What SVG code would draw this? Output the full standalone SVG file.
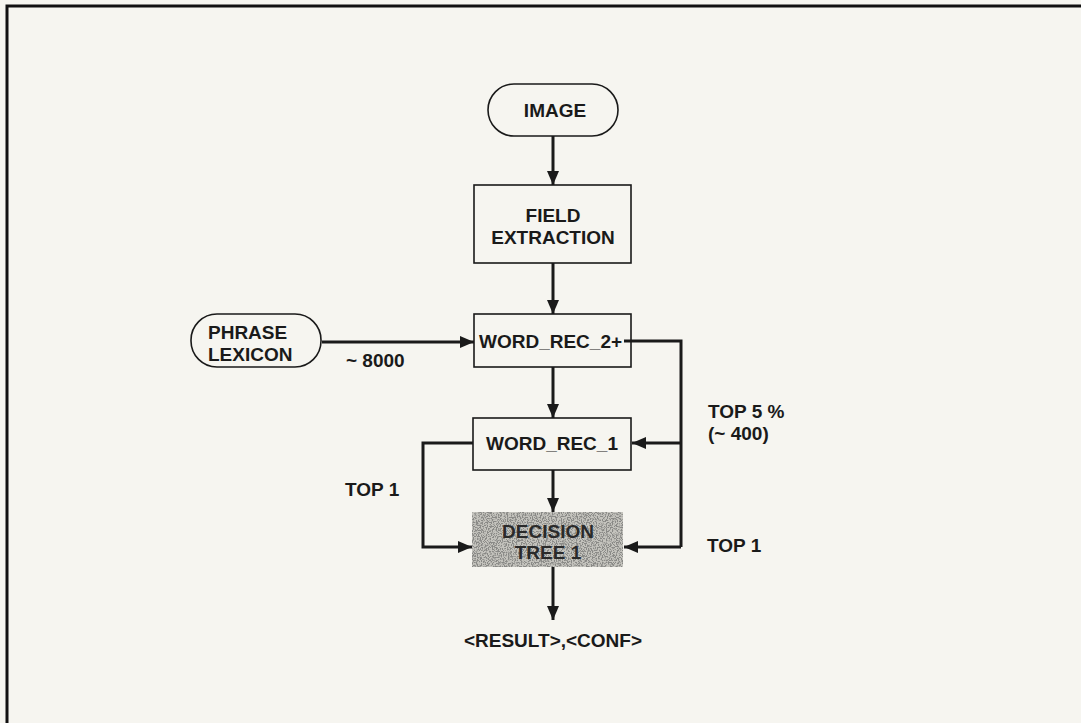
<svg xmlns="http://www.w3.org/2000/svg" width="1081" height="723" viewBox="0 0 1081 723">
<style>
.t{font-family:"Liberation Sans",Arial,sans-serif;font-size:19px;font-weight:bold;fill:#1a1a1a;}
.c{text-anchor:middle;}
.box{fill:none;stroke:#1a1a1a;stroke-width:1.6;}
.ln{fill:none;stroke:#1a1a1a;stroke-width:3;}
</style>
<defs>
<marker id="ah" viewBox="0 0 14 12" refX="14" refY="6" markerWidth="14" markerHeight="12" markerUnits="userSpaceOnUse" orient="auto">
<path d="M0,0 L14,6 L0,12 Z" fill="#1a1a1a"/>
</marker>
<filter id="noise" x="0" y="0" width="100%" height="100%">
<feTurbulence type="fractalNoise" baseFrequency="0.8" numOctaves="2" seed="3" result="n"/>
<feColorMatrix in="n" type="matrix" values="0 0 0 0 0.25  0 0 0 0 0.25  0 0 0 0 0.24  7 0 0 0 -3.2" result="g"/>
<feComposite in="g" in2="SourceGraphic" operator="in"/>
</filter>
</defs>
<rect x="0" y="0" width="1081" height="723" fill="#f6f5f0"/>
<path d="M7,723 V6 H1081" fill="none" stroke="#111" stroke-width="3"/>

<g id="connectors">
<line class="ln" x1="553" y1="136" x2="553" y2="185" marker-end="url(#ah)"/>
<line class="ln" x1="553" y1="263" x2="553" y2="314" marker-end="url(#ah)"/>
<line class="ln" x1="322" y1="342" x2="474" y2="342" marker-end="url(#ah)"/>
<line class="ln" x1="553" y1="367" x2="553" y2="418" marker-end="url(#ah)"/>
<line class="ln" x1="553" y1="470" x2="553" y2="512" marker-end="url(#ah)"/>
<line class="ln" x1="553" y1="567" x2="553" y2="620" marker-end="url(#ah)"/>
<path class="ln" d="M624,341 H681 V547"/>
<line class="ln" x1="681" y1="443" x2="632" y2="443" marker-end="url(#ah)"/>
<line class="ln" x1="681" y1="547" x2="624" y2="547" marker-end="url(#ah)"/>
<path class="ln" d="M473,443 H423 V547 H472" marker-end="url(#ah)"/>
<text class="t" x="346" y="367">~ 8000</text>
<text class="t" x="708" y="418">TOP 5 %</text>
<text class="t" x="708" y="440">(~ 400)</text>
<text class="t" x="345" y="496">TOP 1</text>
<text class="t" x="707" y="552">TOP 1</text>
</g>

<g id="image">
<rect class="box" x="488" y="84" width="130" height="52" rx="26"/>
<text class="t c" x="555" y="117">IMAGE</text>
</g>
<g id="field-extraction">
<rect class="box" x="474" y="185" width="157" height="78"/>
<text class="t c" x="553" y="222">FIELD</text>
<text class="t c" x="553" y="244">EXTRACTION</text>
</g>
<g id="phrase-lexicon">
<rect class="box" x="191" y="314" width="130" height="53" rx="26"/>
<text class="t" x="208" y="339">PHRASE</text>
<text class="t" x="208" y="361">LEXICON</text>
</g>
<g id="word-rec-2">
<rect class="box" x="474" y="314" width="157" height="53"/>
<text class="t" x="479" y="348">WORD_REC_2+</text>
</g>
<g id="word-rec-1">
<rect class="box" x="473" y="418" width="158" height="52"/>
<text class="t c" x="552" y="450">WORD_REC_1</text>
</g>
<g id="decision-tree">
<rect x="472" y="512" width="151" height="55" fill="#c4c3bd"/>
<rect x="472" y="512" width="151" height="55" fill="#888" filter="url(#noise)"/>
<text class="t c" x="548" y="538" style="fill:#2a2a2a">DECISION</text>
<text class="t c" x="548" y="559" style="fill:#2a2a2a">TREE 1</text>
</g>
<g id="result">
<text class="t c" x="553" y="647">&lt;RESULT&gt;,&lt;CONF&gt;</text>
</g>
</svg>
